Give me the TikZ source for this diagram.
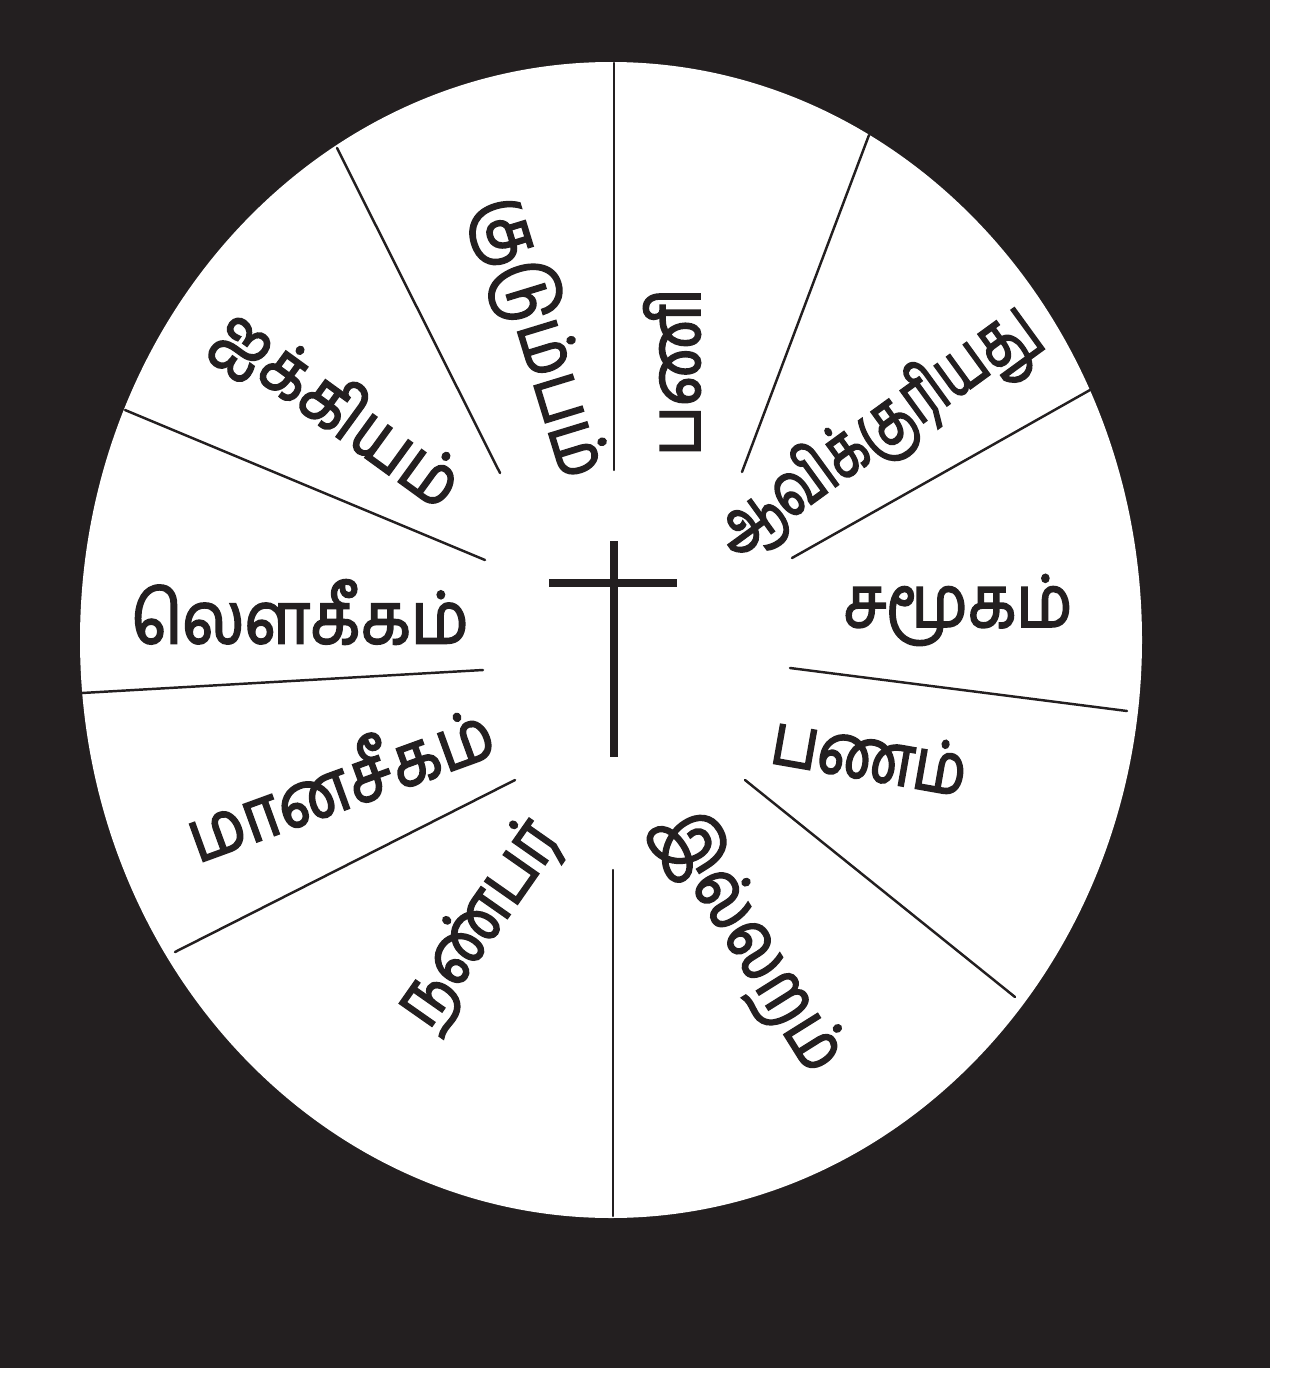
\documentclass[tikz,border=0pt]{standalone}
\usepackage{fontspec}
\newfontfamily\tamilfont[Script=Tamil, FakeBold=2.5, FakeStretch=0.92]{Hind Madurai}
\usepackage{tikz}
\definecolor{wheelblack}{HTML}{231F20}

\begin{document}
\begin{tikzpicture}[x=0.1mm, y=-0.1mm, line cap=round,
  every node/.style={inner sep=0pt},
  spoke/.style={wheelblack, line width=0.7pt},
  sectorword/.style={font=\tamilfont\fontsize{20.5}{25}\selectfont, text=wheelblack}]
  \path[use as bounding box] (0,0) rectangle (1292,1373);
  \fill[wheelblack] (0,0) rectangle (1270,1368);
  % x = pixel column, y = pixel row of the scan
  \fill[white] (611,640) ellipse [x radius=53.1mm, y radius=57.8mm];
  \foreach \ax/\ay/\bx/\by in {614/63/614/470, 337/148/500/473,
      869/135/742/472, 1090/390/792/558, 125/410/485/560, 82/693/483/670,
      790/668/1127/711, 175/952/515/780, 745/780/1015/997,
      613/870/613/1216} {
    \draw[spoke] (\ax,\ay) -- (\bx,\by);
  }
  % cross in the hub
  \draw[wheelblack, line width=2pt, line cap=butt] (614,541) -- (614,757);
  \draw[wheelblack, line width=2pt, line cap=butt] (549,583) -- (677,583);
  % centre / angle / squeeze / word
  \foreach \x/\y/\r/\s/\word [count=\i] in {672/372/90/0.96/பணி,
      539/338/-73/0.95/குடும்பம், 337/411/-36/0.96/ஐக்கியம்,
      300/612/0/0.98/லௌகீகம், 338/779/20/0.96/மானசீகம்,
      481/925/55/0.92/நண்பர், 749/941/-58/0.94/இல்லறம்,
      870/754/-10/0.9/பணம், 958/610/0/0.95/சமூகம்,
      879/435/36/0.79/ஆவிக்குரியது} {
    \node[sectorword, rotate=\r, xscale=\s] (w\i) at (\x,\y) {\word};
  }
\end{tikzpicture}
\end{document}
